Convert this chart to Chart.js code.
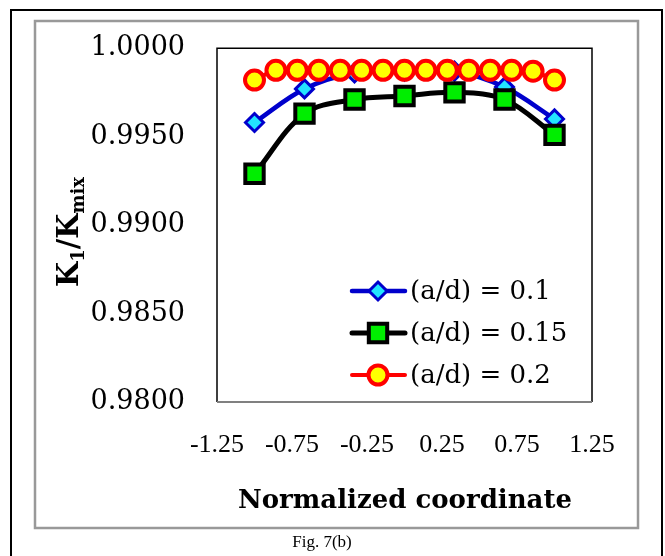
<!DOCTYPE html>
<html><head><meta charset="utf-8">
<script src="https://cdn.jsdelivr.net/npm/chart.js@4.4.1/dist/chart.umd.min.js"></script>
<style>html,body{margin:0;padding:0;background:#fff;overflow:hidden}#wrap{width:665px;height:556px;position:relative}</style>
</head><body><div id="wrap"><canvas id="c" width="665" height="556"></canvas></div>
<script>
// ---- data ----
const xCoarse = [-1, -0.6667, -0.3333, 0, 0.3333, 0.6667, 1];
const xFine = [-1, -0.8571, -0.7143, -0.5714, -0.4286, -0.2857, -0.1429, 0, 0.1429, 0.2857, 0.4286, 0.5714, 0.7143, 0.8571, 1];
const seriesLabels = ['(a/d) = 0.1', '(a/d) = 0.15', '(a/d) = 0.2'];
const k01 = [0.9958, 0.9977, 0.9986, 0.9987, 0.9987, 0.9978, 0.9960];
const k015 = [0.9929, 0.9963, 0.9971, 0.9973, 0.9975, 0.9971, 0.9951];
const k02 = [0.9982, 0.99875, 0.99875, 0.99875, 0.99875, 0.99875, 0.99875, 0.99875, 0.99875, 0.99875, 0.99875, 0.99875, 0.99875, 0.9987, 0.9982];
const xTickValues = [-1.25, -0.75, -0.25, 0.25, 0.75, 1.25];
const xTickLabels = ['-1.25', '-0.75', '-0.25', '0.25', '0.75', '1.25'];
const yTickValues = [0.98, 0.985, 0.99, 0.995, 1.0];
const yTickLabels = ['0.9800', '0.9850', '0.9900', '0.9950', '1.0000'];
const xTitle = 'Normalized coordinate';
const yTitleParts = [['K', 0], ['1', 1], ['/', 0], ['K', 0], ['mix', 1]];
const caption = 'Fig. 7(b)';

const pts = (xs, ys) => xs.map((x, i) => ({x: x, y: ys[i]}));

const datasets = [
  {label: seriesLabels[0], data: pts(xCoarse, k01), borderColor: '#0000CC', borderWidth: 4.5,
   pointStyle: 'rectRot', pointRadius: 9, pointBackgroundColor: '#22E5FF', pointBorderColor: '#0000CC', pointBorderWidth: 3,
   tension: 0.35, order: 3, clip: false},
  {label: seriesLabels[1], data: pts(xCoarse, k015), borderColor: '#000000', borderWidth: 5,
   pointStyle: 'rect', pointRadius: 13, pointBackgroundColor: '#00EE00', pointBorderColor: '#000000', pointBorderWidth: 4,
   tension: 0.35, order: 2, clip: false},
  {label: seriesLabels[2], data: pts(xFine, k02), borderColor: '#FF0000', borderWidth: 4,
   pointStyle: 'circle', pointRadius: 9.5, pointBackgroundColor: '#FFFF00', pointBorderColor: '#FF0000', pointBorderWidth: 4,
   tension: 0.35, order: 1, clip: false}
];

const deco = {
  id: 'deco',
  beforeDraw(chart) {
    const ctx = chart.ctx;
    ctx.save();
    ctx.fillStyle = '#fff';
    ctx.fillRect(0, 0, chart.width, chart.height);
    // outer black frame
    ctx.strokeStyle = '#000'; ctx.lineWidth = 2;
    ctx.beginPath(); ctx.moveTo(11, 560); ctx.lineTo(11, 10); ctx.lineTo(662, 10); ctx.lineTo(662, 560); ctx.stroke();
    // inner gray frame
    ctx.strokeStyle = '#999'; ctx.lineWidth = 2.5;
    ctx.strokeRect(35, 21, 603, 507);
    // caption
    ctx.fillStyle = '#000';
    ctx.font = '17px "Liberation Serif"';
    ctx.textAlign = 'center'; ctx.textBaseline = 'alphabetic';
    ctx.fillText(caption, 322, 547);
    // x title
    ctx.font = 'bold 26px "DejaVu Serif"';
    ctx.fillText(xTitle, 405, 508);
    // y title
    ctx.translate(70, 232); ctx.rotate(-Math.PI / 2);
    const fMain = 'bold 29px "DejaVu Serif"', fSub = 'bold 18px "DejaVu Serif"';
    let total = 0;
    yTitleParts.forEach(p => { ctx.font = p[1] ? fSub : fMain; total += ctx.measureText(p[0]).width; });
    let x = -total / 2;
    ctx.textAlign = 'left';
    yTitleParts.forEach(p => {
      ctx.font = p[1] ? fSub : fMain;
      ctx.fillText(p[0], x, p[1] ? 14 : 8);
      x += ctx.measureText(p[0]).width;
    });
    ctx.restore();
  },
  beforeDatasetsDraw(chart) {
    const ctx = chart.ctx, a = chart.chartArea;
    ctx.save();
    ctx.strokeStyle = '#000'; ctx.lineWidth = 1.5;
    ctx.beginPath(); ctx.moveTo(a.left, a.bottom); ctx.lineTo(a.left, a.top); ctx.lineTo(a.right, a.top); ctx.lineTo(a.right, a.bottom); ctx.stroke();
    ctx.strokeStyle = '#808080'; ctx.lineWidth = 2;
    ctx.beginPath(); ctx.moveTo(a.left, a.bottom); ctx.lineTo(a.right, a.bottom); ctx.stroke();
    ctx.restore();
  },
  afterDatasetsDraw(chart) {
    const ctx = chart.ctx;
    const rows = [291, 333, 375];
    chart.data.datasets.forEach((ds, i) => {
      const y = rows[i];
      ctx.save();
      ctx.strokeStyle = ds.borderColor; ctx.lineWidth = ds.borderWidth; ctx.lineCap = 'round';
      ctx.beginPath(); ctx.moveTo(352, y); ctx.lineTo(405, y); ctx.stroke();
      ctx.fillStyle = ds.pointBackgroundColor; ctx.strokeStyle = ds.pointBorderColor; ctx.lineWidth = ds.pointBorderWidth;
      Chart.helpers.drawPoint(ctx, {pointStyle: ds.pointStyle, radius: ds.pointRadius, rotation: 0, borderWidth: ds.pointBorderWidth}, 378, y);
      ctx.fillStyle = '#000';
      ctx.font = '26px "DejaVu Serif"';
      ctx.textAlign = 'left'; ctx.textBaseline = 'middle';
      ctx.fillText(ds.label, 410, y + 1);
      ctx.restore();
    });
  }
};

new Chart(document.getElementById('c'), {
  type: 'line',
  data: {datasets: datasets},
  plugins: [deco],
  options: {
    responsive: false, animation: false, devicePixelRatio: 1, events: [],
    layout: {padding: {left: 0, top: 46, right: 73, bottom: 0}},
    plugins: {legend: {display: false}, tooltip: {enabled: false}},
    scales: {
      x: {
        type: 'linear', min: -1.25, max: 1.25,
        afterBuildTicks: s => { s.ticks = xTickValues.map(v => ({value: v})); },
        afterFit: s => { s.height = 154; },
        grid: {display: false, drawTicks: false}, border: {display: false},
        ticks: {autoSkip: false, maxRotation: 0, padding: 28, color: '#000',
          font: {family: '"Liberation Serif"', size: 26},
          callback: (v, i) => xTickLabels[i]}
      },
      y: {
        type: 'linear', min: 0.98, max: 1.0,
        afterBuildTicks: s => { s.ticks = yTickValues.map(v => ({value: v})); },
        afterFit: s => { s.width = 217; },
        grid: {display: false, drawTicks: false}, border: {display: false},
        ticks: {autoSkip: false, padding: 32, color: '#000',
          font: {family: '"DejaVu Serif"', size: 27},
          callback: (v, i) => yTickLabels[i]}
      }
    }
  }
});
</script></body></html>
